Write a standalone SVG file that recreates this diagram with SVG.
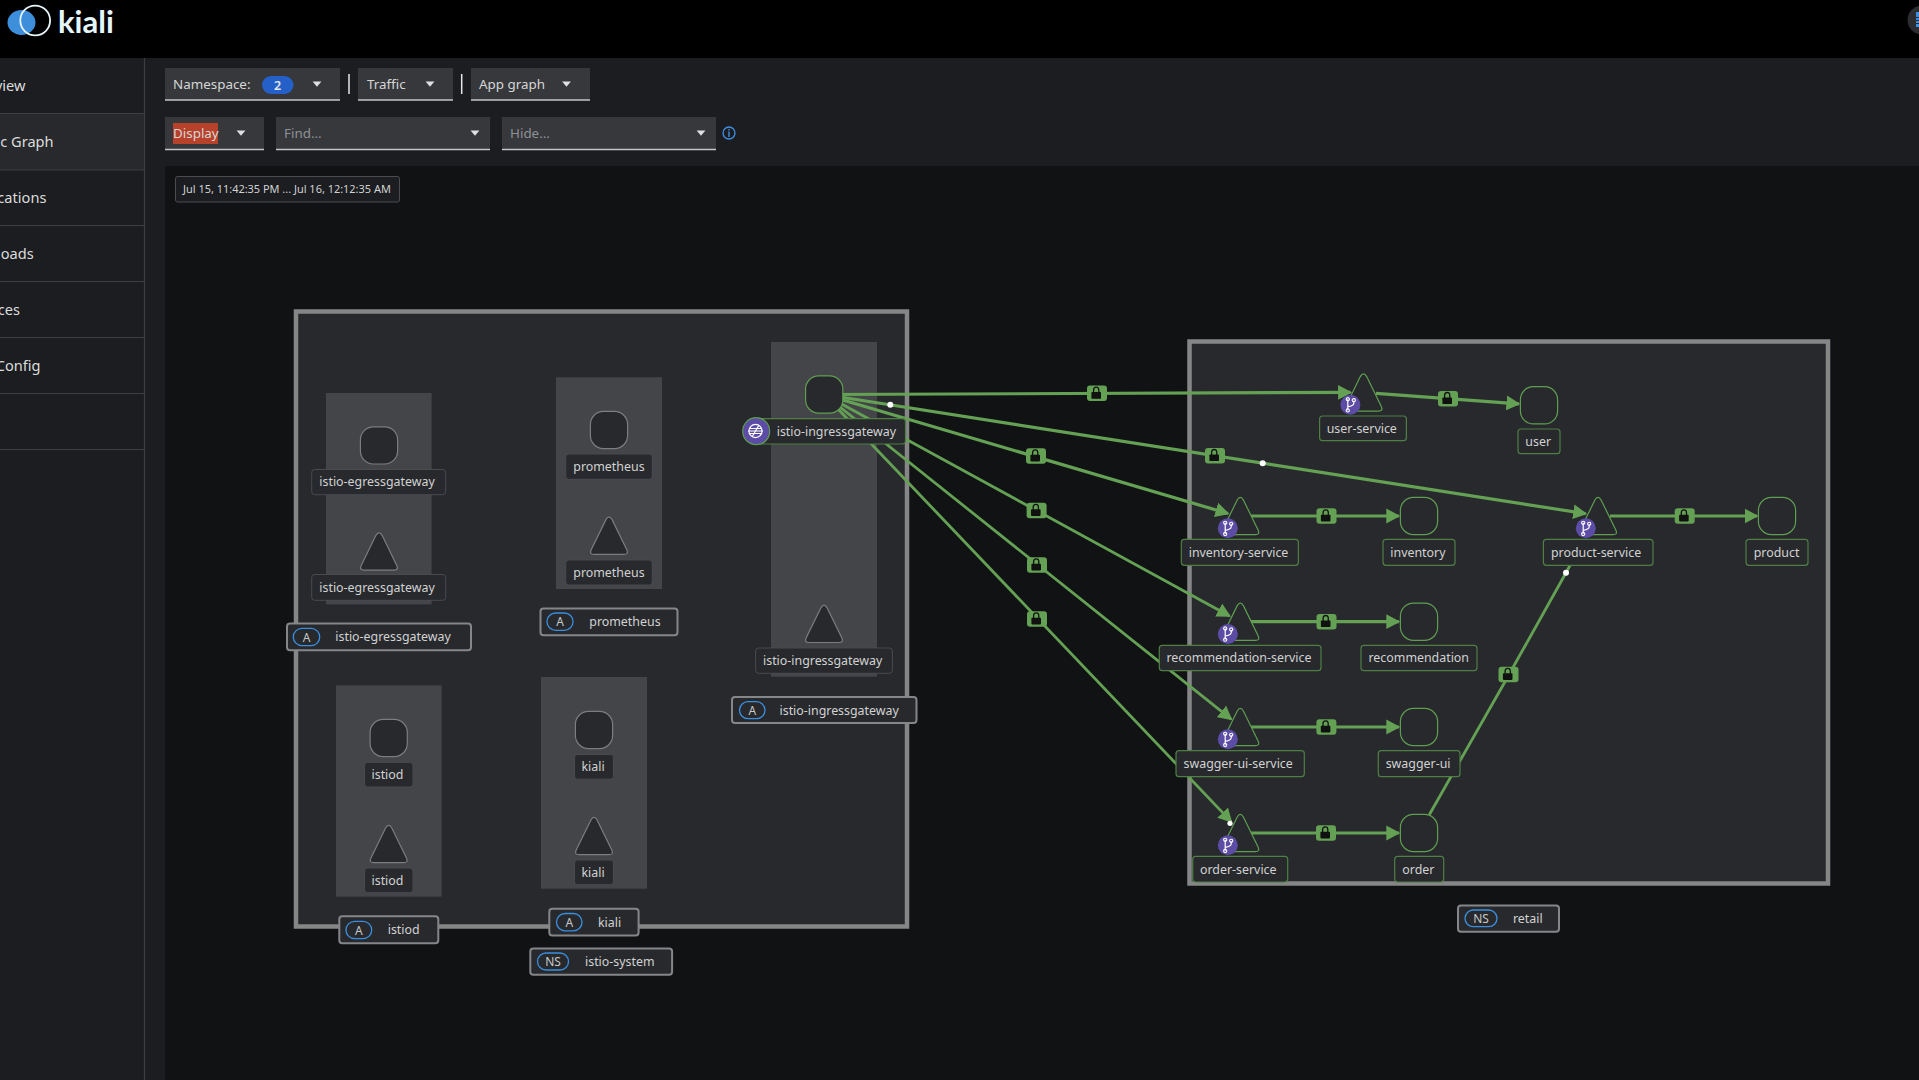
<svg xmlns="http://www.w3.org/2000/svg" xmlns:xlink="http://www.w3.org/1999/xlink" width="1919" height="1080" viewBox="0 0 1919 1080">
<style>
text{font-family:"Noto Sans","Liberation Sans",sans-serif;font-size:12.4px;fill:#d2d2d2}
.nav{font-size:14.6px;fill:#dcdcdc;text-anchor:end}
.tb{font-size:13.4px;fill:#d6d6d6}
.ph{font-size:13.4px;fill:#8f9194}
.ctl{fill:#36383c}
.ul{stroke:#c4c6c8;stroke-width:1.3}
.sep{stroke:#e6e6e6;stroke-width:1.5}
.car{fill:#e0e0e0}
.ns{fill:#27292d;stroke:#868686;stroke-width:4.5}
.app{fill:#434549}
.s{fill:#27292d;stroke:#7b7d80;stroke-width:1.2}
.g{fill:#27292d;stroke:#5f9e50;stroke-width:1.2}
.lb{fill:#27292d;stroke:#494b4f;stroke-width:1}
.lg{fill:#27292d;stroke:#4f7f45;stroke-width:1.2}
.cl{fill:#27292d;stroke:#858688;stroke-width:2}
.pill{fill:none;stroke:#3a8fe0;stroke-width:1.3}
.pt{font-size:12px;text-anchor:middle;fill:#c6c8ca}
.e{fill:none;stroke:#65a154;stroke-width:3.2}
.t{stroke-width:2.8}
.a{marker-end:url(#ah)}
.dot{fill:#fff}
.m{text-anchor:middle}
</style>
<defs>
<marker id="ah" markerUnits="userSpaceOnUse" markerWidth="16" markerHeight="16" refX="12.5" refY="8" orient="auto"><path d="M0 0.6L14 8L0 15.4Z" fill="#65a154"/></marker>
<path id="tri" d="M-3.2-15.8Q0-21.4 3.2-15.8L17.8 14Q20 18.7 15 18.7L-15 18.7Q-20 18.7-17.8 14Z"/>
<rect id="box" x="-18.6" y="-18.6" width="37.2" height="37.2" rx="13"/>
<g id="lock"><rect x="-10" y="-7.7" width="20" height="15.4" rx="3" fill="#65a154"/><path d="M-3.4-.8V-3.2Q-3.4-6.2-.8-6.2Q1.8-6.2 1.8-3.2V-.8" fill="none" stroke="#111" stroke-width="1.3"/><rect x="-5.6" y="-1.2" width="9.6" height="6.6" rx=".8" fill="#111"/></g>
<g id="br"><circle r="10" fill="#5c4ca6"/><path d="M-2.6-5.5V5.5M3.4-4V-1.5Q3.4 1-2.6 2" fill="none" stroke="#fff" stroke-width="1.2"/><circle cx="-2.6" cy="-5.5" r="1.6" fill="none" stroke="#fff" stroke-width="1.1"/><circle cx="-2.6" cy="5.7" r="1.6" fill="none" stroke="#fff" stroke-width="1.1"/><circle cx="3.4" cy="-4.5" r="1.6" fill="none" stroke="#fff" stroke-width="1.1"/></g>
<path id="car" d="M-4.4-2.6H4.4L0 2.8Z"/>
</defs>

<rect width="1919" height="1080" fill="#1b1d21"/>
<rect width="1919" height="58" fill="#000"/>
<g id="logo">
<ellipse cx="21.5" cy="22.5" rx="14" ry="12.5" fill="#3d8fdc"/>
<circle cx="35.2" cy="20.5" r="14.9" fill="none" stroke="#e8f4fb" stroke-width="1.8"/>
<text x="58" y="33" style="font-family:Lato,sans-serif;font-size:31px;font-weight:700;fill:#e6f6fd">kiali</text>
</g>
<circle cx="1922" cy="20" r="14.5" fill="#2b2d31"/>
<path d="M1916 12H1919V27H1916Z" fill="#3a8fe0"/><path d="M1916 17.5H1919M1916 20.5H1919M1916 23.5H1919" stroke="#2b2d31" stroke-width="1"/>

<g id="sidebar">
<rect x="0" y="113" width="144" height="57" fill="#27292d"/>
<path d="M144.5 58V1080" stroke="#3c3f42" stroke-width="1.2"/>
<path d="M0 113.5H144M0 170H144M0 225.5H144M0 281.5H144M0 337.5H144M0 393.5H144M0 449.5H144" stroke="#3c3f42" stroke-width="1.2"/>
<text class="nav" x="25.5" y="91">view</text>
<text class="nav" x="53.6" y="147">c Graph</text>
<text class="nav" x="46.4" y="203">cations</text>
<text class="nav" x="33.7" y="259">oads</text>
<text class="nav" x="20" y="315">ces</text>
<text class="nav" x="40.5" y="371">Config</text>
</g>

<g id="toolbar">
<rect class="ctl" x="165" y="68" width="175" height="32"/><path class="ul" d="M165 100H340"/>
<text class="tb" x="173" y="89">Namespace:</text>
<rect x="262" y="76" width="31.5" height="18" rx="9" fill="#2460c8"/><text x="277.7" y="89.5" class="m" style="font-size:12.5px;font-weight:600;fill:#e6e6e6">2</text>
<use href="#car" class="car" x="317" y="84"/>
<path class="sep" d="M349 74V94M461.7 74V94"/>
<rect class="ctl" x="358" y="68" width="95" height="32"/><path class="ul" d="M358 100H453"/>
<text class="tb" x="367" y="89">Traffic</text><use href="#car" class="car" x="430" y="84"/>
<rect class="ctl" x="471" y="68" width="119" height="32"/><path class="ul" d="M471 100H590"/>
<text class="tb" x="479" y="89">App graph</text><use href="#car" class="car" x="566.5" y="84"/>
<rect class="ctl" x="165" y="117" width="99" height="32.5"/><path class="ul" d="M165 149.5H264"/>
<rect x="173" y="123" width="45" height="21" fill="#b8412a"/>
<text class="tb" x="173" y="138.2">Display</text><use href="#car" class="car" x="241" y="133"/>
<rect class="ctl" x="276" y="117" width="214" height="32.5"/><path class="ul" d="M276 149.5H490"/>
<text class="ph" x="284" y="138.2">Find...</text><use href="#car" class="car" x="475" y="133"/>
<rect class="ctl" x="502" y="117" width="214" height="32.5"/><path class="ul" d="M502 149.5H716"/>
<text class="ph" x="510" y="138.2">Hide...</text><use href="#car" class="car" x="701" y="133"/>
<circle cx="729" cy="133" r="6" fill="none" stroke="#3f8fe4" stroke-width="1.3"/><path d="M729 131.5V137M729 129V130.4" stroke="#3f8fe4" stroke-width="1.4"/>
</g>

<rect x="165" y="166" width="1754" height="914" fill="#101214"/>
<rect x="175.5" y="176.5" width="224" height="25.5" rx="2" fill="#1b1d21" stroke="#4a4c50"/>
<text x="183" y="193" style="font-size:10.95px">Jul 15, 11:42:35 PM ... Jul 16, 12:12:35 AM</text>

<g id="namespaces">
<rect class="ns" x="296" y="311.5" width="611" height="615"/>
<rect class="ns" x="1189.5" y="341.5" width="638.5" height="542"/>
<rect class="app" x="326" y="393" width="105.6" height="211.4"/>
<rect class="app" x="556" y="377.3" width="106" height="211.7"/>
<rect class="app" x="771" y="342" width="106" height="334.7"/>
<rect class="app" x="336" y="685.3" width="105.6" height="211.4"/>
<rect class="app" x="541" y="677" width="106" height="211.7"/>
</g>

<g id="connectors">
<path class="e a" d="M824.2 394.5L1350.6 392.4"/>
<path class="e a" d="M824.2 394.5L1585.7 513.7"/>
<path class="e a" d="M824.2 394.5L1228 513.5"/>
<path class="e t a" d="M824.2 394.5L1229.6 616"/>
<path class="e t a" d="M824.2 394.5L1231.2 719.2"/>
<path class="e t a" d="M824.2 394.5L1231.2 821.6"/>
<path class="e a" d="M1376 393.3L1518.9 403.9"/>
<path class="e a" d="M1250 516H1398.8"/>
<path class="e a" d="M1610 516H1757"/>
<path class="e a" d="M1250 621.7H1398.8"/>
<path class="e a" d="M1250 727H1398.8"/>
<path class="e a" d="M1250 833H1398.8"/>
<path class="e t" d="M1429.3 814.7L1506 680L1566 572.7L1584 540"/>
<use href="#lock" x="1097" y="393.3"/><use href="#lock" x="1215" y="455.7"/><use href="#lock" x="1036" y="456"/><use href="#lock" x="1036.6" y="510.5"/><use href="#lock" x="1037" y="565"/><use href="#lock" x="1037" y="619"/>
<use href="#lock" x="1448" y="398.7"/><use href="#lock" x="1326.5" y="516"/><use href="#lock" x="1684.7" y="516"/><use href="#lock" x="1326.5" y="621.7"/><use href="#lock" x="1326.4" y="727"/><use href="#lock" x="1326" y="833"/><use href="#lock" x="1508.5" y="674.5"/>
<circle class="dot" cx="890.3" cy="404.7" r="3"/><circle class="dot" cx="1262.7" cy="463.3" r="3"/><circle class="dot" cx="1566" cy="572.7" r="3"/>
</g>

<g id="app-istio-egressgateway"><use href="#box" class="s" x="379" y="445.4"/><rect class="lb" x="311.7" y="469.5" width="134" height="25.2" rx="3"/><text x="319.3" y="486">istio-egressgateway</text></g>
<g id="wl-istio-egressgateway"><use href="#tri" class="s" x="379" y="551.4"/><rect class="lb" x="311.7" y="574.5" width="134" height="25.8" rx="3"/><text x="319.3" y="591.5">istio-egressgateway</text></g>
<g id="app-prometheus"><use href="#box" class="s" x="609" y="430"/><rect class="lb" x="565.7" y="454" width="86.6" height="25.3" rx="3"/><text x="573.3" y="470.5">prometheus</text></g>
<g id="wl-prometheus"><use href="#tri" class="s" x="609" y="535.7"/><rect class="lb" x="565.7" y="560" width="86.6" height="25" rx="3"/><text x="573.3" y="576.5">prometheus</text></g>
<g id="app-istiod"><use href="#box" class="s" x="388.7" y="738"/><rect class="lb" x="364.6" y="762.3" width="48.4" height="24.7" rx="3"/><text x="371.5" y="779">istiod</text></g>
<g id="wl-istiod"><use href="#tri" class="s" x="388.7" y="844"/><rect class="lb" x="364.6" y="868" width="48.4" height="24.7" rx="3"/><text x="371.5" y="885">istiod</text></g>
<g id="app-kiali"><use href="#box" class="s" x="594" y="730"/><rect class="lb" x="574.5" y="754.5" width="39" height="24.7" rx="3"/><text x="581.5" y="771">kiali</text></g>
<g id="wl-kiali"><use href="#tri" class="s" x="594" y="836"/><rect class="lb" x="574.5" y="860" width="39" height="24.7" rx="3"/><text x="581.5" y="877">kiali</text></g>
<g id="app-istio-ingressgateway"><use href="#box" class="g" x="824.2" y="394.5"/><rect class="lg" x="756" y="418.7" width="149.5" height="25.3" rx="3"/><circle cx="756.2" cy="431.2" r="13.5" fill="#5c4ca6" stroke="#5f9e50" stroke-width="1.2"/><circle cx="755.5" cy="431" r="6.6" fill="none" stroke="#fff" stroke-width="1.2"/><path d="M749 428.5H762M748 431H763M749 433.5H762" stroke="#fff" stroke-width="1.1"/><path d="M759 425L752 437" stroke="#fff" stroke-width="1.2"/><text x="776.7" y="435.5">istio-ingressgateway</text></g>
<g id="wl-istio-ingressgateway"><use href="#tri" class="s" x="824" y="623.8"/><rect class="lb" x="755.6" y="648" width="136.8" height="25.3" rx="3"/><text x="763" y="665">istio-ingressgateway</text></g>

<g id="svc-user-service"><use href="#tri" class="g" x="1363.5" y="392.4"/><use href="#br" x="1350.4" y="404.7"/><rect class="lg" x="1319.6" y="416" width="86.8" height="24.7" rx="3"/><text x="1326.7" y="432.8">user-service</text></g>
<g id="app-user"><use href="#box" class="g" x="1539" y="405.3"/><rect class="lg" x="1518" y="429" width="42" height="24.7" rx="3"/><text x="1525.3" y="445.8">user</text></g>
<g id="svc-inventory-service"><use href="#tri" class="g" x="1240.3" y="516"/><use href="#br" x="1227.8" y="528.3"/><rect class="lg" x="1181.3" y="539.3" width="117.1" height="26" rx="3"/><text x="1188.7" y="556.5">inventory-service</text></g>
<g id="app-inventory"><use href="#box" class="g" x="1419" y="516"/><rect class="lg" x="1383" y="539.3" width="72" height="26" rx="3"/><text x="1390.3" y="556.5">inventory</text></g>
<g id="svc-product-service"><use href="#tri" class="g" x="1598" y="516"/><use href="#br" x="1585.8" y="528.3"/><rect class="lg" x="1543.4" y="539.3" width="109.6" height="26" rx="3"/><text x="1551" y="556.5">product-service</text></g>
<g id="app-product"><use href="#box" class="g" x="1777" y="516"/><rect class="lg" x="1746" y="539.3" width="62" height="26" rx="3"/><text x="1753.7" y="556.5">product</text></g>
<g id="svc-recommendation-service"><use href="#tri" class="g" x="1240.3" y="621.7"/><use href="#br" x="1227.8" y="634"/><rect class="lg" x="1159.3" y="645.3" width="161.7" height="25.4" rx="3"/><text x="1166.5" y="662">recommendation-service</text></g>
<g id="app-recommendation"><use href="#box" class="g" x="1419" y="621.7"/><rect class="lg" x="1361" y="645.3" width="116" height="25.4" rx="3"/><text x="1368.5" y="662">recommendation</text></g>
<g id="svc-swagger-ui-service"><use href="#tri" class="g" x="1240.3" y="727"/><use href="#br" x="1227.8" y="739.3"/><rect class="lg" x="1176" y="750.7" width="128.3" height="26" rx="3"/><text x="1183.5" y="767.5">swagger-ui-service</text></g>
<g id="app-swagger-ui"><use href="#box" class="g" x="1419" y="727"/><rect class="lg" x="1378.3" y="750.7" width="81.7" height="26" rx="3"/><text x="1385.7" y="767.5">swagger-ui</text></g>
<g id="svc-order-service"><use href="#tri" class="g" x="1240.3" y="833"/><use href="#br" x="1227.8" y="845.3"/><rect class="lg" x="1192.7" y="856.3" width="95" height="25.7" rx="3"/><text x="1200" y="873.5">order-service</text></g>
<g id="app-order"><use href="#box" class="g" x="1419" y="833"/><rect class="lg" x="1394.7" y="856.3" width="49" height="25.7" rx="3"/><text x="1402.3" y="873.5">order</text></g>
<circle class="dot" cx="1230" cy="823.3" r="2.6"/>

<g id="cl-istio-egressgateway"><rect class="cl" x="287" y="623.5" width="184" height="26.8" rx="3"/><rect class="pill" x="293.3" y="628.3" width="26.4" height="17.4" rx="8.7"/><text class="pt" x="306.5" y="641.5">A</text><text x="335.3" y="641.3">istio-egressgateway</text></g>
<g id="cl-prometheus"><rect class="cl" x="540.5" y="608.5" width="137" height="26.8" rx="3"/><rect class="pill" x="547" y="613" width="26" height="17.3" rx="8.6"/><text class="pt" x="560" y="626.2">A</text><text x="589.3" y="626">prometheus</text></g>
<g id="cl-istio-ingressgateway"><rect class="cl" x="732" y="697" width="184.5" height="26" rx="3"/><rect class="pill" x="739.5" y="701.7" width="25.5" height="17" rx="8.5"/><text class="pt" x="752.3" y="714.7">A</text><text x="779.5" y="714.5">istio-ingressgateway</text></g>
<g id="cl-istiod"><rect class="cl" x="339.3" y="916.3" width="99" height="27" rx="3"/><rect class="pill" x="346" y="921.3" width="25.7" height="17.4" rx="8.7"/><text class="pt" x="358.8" y="934.5">A</text><text x="387.7" y="934.3">istiod</text></g>
<g id="cl-kiali"><rect class="cl" x="549.3" y="908.7" width="89.3" height="26.8" rx="3"/><rect class="pill" x="556.5" y="913.5" width="25.5" height="17.3" rx="8.6"/><text class="pt" x="569.3" y="926.7">A</text><text x="598" y="926.5">kiali</text></g>
<g id="cl-istio-system"><rect class="cl" x="530.3" y="948.5" width="141.8" height="26.3" rx="3"/><rect class="pill" x="537.5" y="953" width="31" height="17" rx="8.5"/><text class="pt" x="553" y="966">NS</text><text x="585" y="965.8">istio-system</text></g>
<g id="cl-retail"><rect class="cl" x="1458" y="905.5" width="101" height="26.3" rx="3"/><rect class="pill" x="1465" y="910" width="32" height="16.7" rx="8.3"/><text class="pt" x="1481" y="923">NS</text><text x="1513" y="923">retail</text></g>
</svg>
